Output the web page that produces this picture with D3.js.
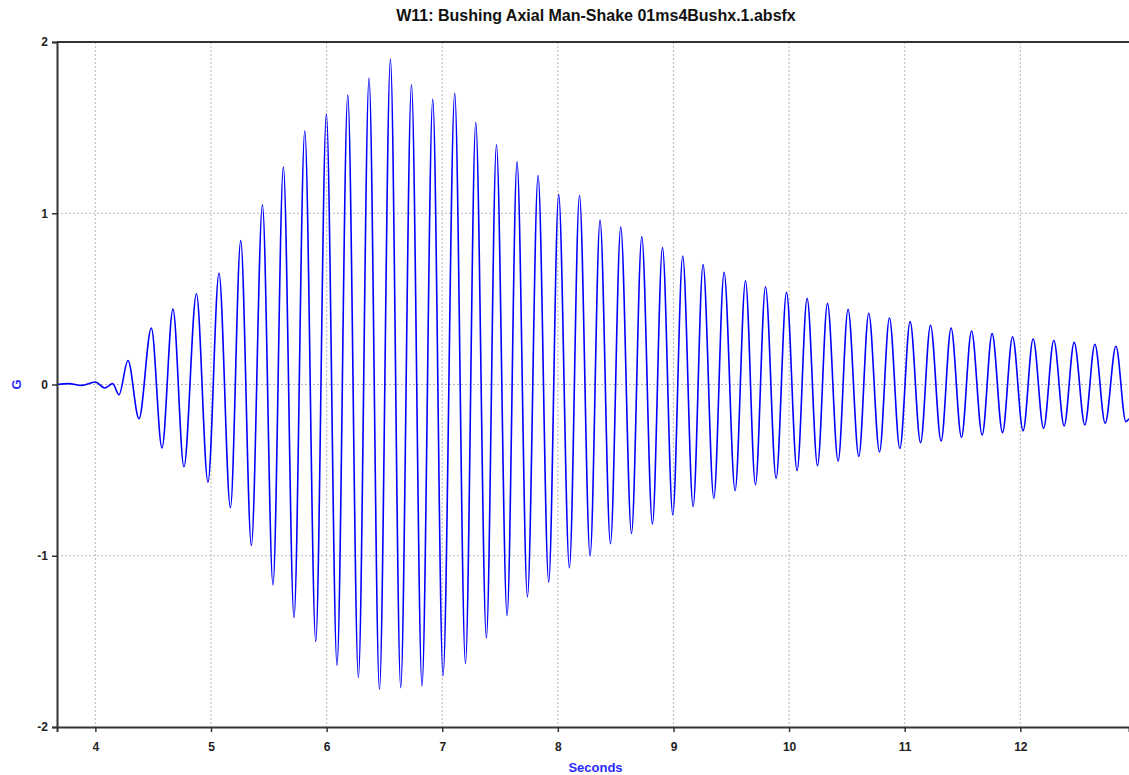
<!DOCTYPE html>
<html>
<head>
<meta charset="utf-8">
<script src="https://cdn.jsdelivr.net/npm/d3@7"></script>
<style>
  body { margin: 0; background: #fff; }
  svg { display: block; font-family: "Liberation Sans", Arial, sans-serif; }
</style>
</head>
<body>
<div class="board"></div>
<script>
var width = 1129;
var height = 775;

// extrema of the trace (seconds, G)
var seconds = [3.668, 3.77, 3.88, 4.00, 4.08, 4.15, 4.204, 4.282, 4.377, 4.484, 4.576, 4.671, 4.766, 4.874, 4.974,
  5.069, 5.168, 5.257, 5.349, 5.445, 5.536, 5.626, 5.718, 5.811, 5.906, 5.998, 6.090, 6.183, 6.275, 6.367, 6.457,
  6.552, 6.641, 6.734, 6.825, 6.918, 7.007, 7.108, 7.201, 7.290, 7.382, 7.469, 7.561, 7.647, 7.737, 7.829, 7.921,
  8.007, 8.100, 8.187, 8.279, 8.365, 8.455, 8.544, 8.637, 8.726, 8.818, 8.905, 8.994, 9.080, 9.170, 9.256, 9.349,
  9.438, 9.533, 9.623, 9.709, 9.796, 9.888, 9.978, 10.069, 10.156, 10.246, 10.332, 10.424, 10.510, 10.603, 10.689,
  10.782, 10.868, 10.958, 11.047, 11.137, 11.223, 11.315, 11.401, 11.491, 11.578, 11.670, 11.756, 11.846, 11.933,
  12.024, 12.111, 12.201, 12.290, 12.379, 12.466, 12.558, 12.645, 12.734, 12.827, 12.913, 12.94];

var gValues = [0, 0.005, -0.005, 0.015, -0.02, 0.005, -0.06, 0.14, -0.20, 0.33, -0.37, 0.44, -0.48, 0.53, -0.57,
  0.65, -0.72, 0.84, -0.94, 1.05, -1.17, 1.27, -1.36, 1.48, -1.50, 1.58, -1.64, 1.69, -1.71, 1.79, -1.78,
  1.90, -1.77, 1.75, -1.76, 1.665, -1.70, 1.70, -1.63, 1.53, -1.48, 1.40, -1.35, 1.30, -1.24, 1.22, -1.155,
  1.11, -1.07, 1.105, -1.00, 0.96, -0.93, 0.92, -0.87, 0.863, -0.815, 0.80, -0.76, 0.75, -0.713, 0.70, -0.664,
  0.655, -0.62, 0.606, -0.585, 0.571, -0.548, 0.538, -0.503, 0.503, -0.474, 0.474, -0.447, 0.439, -0.42, 0.416,
  -0.394, 0.388, -0.373, 0.367, -0.34, 0.346, -0.33, 0.33, -0.308, 0.312, -0.295, 0.297, -0.281, 0.279,
  -0.27, 0.267, -0.256, 0.258, -0.242, 0.246, -0.236, 0.235, -0.227, 0.223, -0.217, -0.20];

var xTicks = [4, 5, 6, 7, 8, 9, 10, 11, 12];
var yTicks = [-2, -1, 0, 1, 2];

var margin = {top: 42, right: 0, bottom: 48, left: 57};

var svg = d3.select('.board').append('svg')
  .attr('width', width)
  .attr('height', height);

var x = d3.scaleLinear().domain([3.668, 12.94]).range([margin.left, width - margin.right]);
var y = d3.scaleLinear().domain([-2, 2]).range([height - margin.bottom, margin.top]);

// grid
svg.append('g').selectAll('line').data(xTicks).enter().append('line')
  .attr('x1', function(d) { return x(d); })
  .attr('x2', function(d) { return x(d); })
  .attr('y1', y(2))
  .attr('y2', y(-2))
  .attr('stroke', '#b8b8b8')
  .attr('stroke-dasharray', '2,2');

svg.append('g').selectAll('line').data([-1, 0, 1]).enter().append('line')
  .attr('x1', x.range()[0])
  .attr('x2', x.range()[1])
  .attr('y1', function(d) { return y(d); })
  .attr('y2', function(d) { return y(d); })
  .attr('stroke', '#b8b8b8')
  .attr('stroke-dasharray', '2,2');

// trace
var points = seconds.map(function(t, i) { return [t, gValues[i]]; });

var line = d3.line()
  .x(function(d) { return x(d[0]); })
  .y(function(d) { return y(d[1]); })
  .curve(d3.curveMonotoneX);

svg.append('path')
  .datum(points)
  .attr('fill', 'none')
  .attr('stroke', '#0000ff')
  .attr('stroke-width', 1.6)
  .attr('d', line);

// axes
var plain = function(d) { return String(d); };

var xAxis = svg.append('g')
  .attr('transform', 'translate(0,' + y(-2) + ')')
  .call(d3.axisBottom(x).tickValues(xTicks).tickSize(5).tickPadding(10).tickFormat(plain));

var yAxis = svg.append('g')
  .attr('transform', 'translate(' + x.range()[0] + ',0)')
  .call(d3.axisLeft(y).tickValues(yTicks).tickSize(5).tickPadding(4).tickFormat(plain));

[xAxis, yAxis].forEach(function(a) {
  a.select('.domain').attr('stroke', '#333').attr('stroke-width', 2);
  a.selectAll('.tick line').attr('stroke', '#333').attr('stroke-width', 1.5);
  a.selectAll('.tick text')
    .attr('fill', '#222')
    .style('font-size', '12px')
    .style('font-weight', 'bold')
    .style('font-family', '"Liberation Sans", Arial, sans-serif');
});

// top border
svg.append('line')
  .attr('x1', x.range()[0]).attr('x2', x.range()[1])
  .attr('y1', y(2)).attr('y2', y(2))
  .attr('stroke', '#333').attr('stroke-width', 2);

// title and labels
svg.append('text')
  .attr('x', 596)
  .attr('y', 21)
  .attr('text-anchor', 'middle')
  .style('font-size', '16px')
  .style('font-weight', 'bold')
  .attr('fill', '#111')
  .text('W11: Bushing Axial Man-Shake 01ms4Bushx.1.absfx');

svg.append('text')
  .attr('x', 595.5)
  .attr('y', 772)
  .attr('text-anchor', 'middle')
  .style('font-size', '13px')
  .style('font-weight', 'bold')
  .attr('fill', '#2a2aff')
  .text('Seconds');

svg.append('text')
  .attr('transform', 'translate(21,' + y(0) + ') rotate(-90)')
  .attr('text-anchor', 'middle')
  .style('font-size', '13px')
  .style('font-weight', 'bold')
  .attr('fill', '#2a2aff')
  .text('G');
</script>
</body>
</html>
